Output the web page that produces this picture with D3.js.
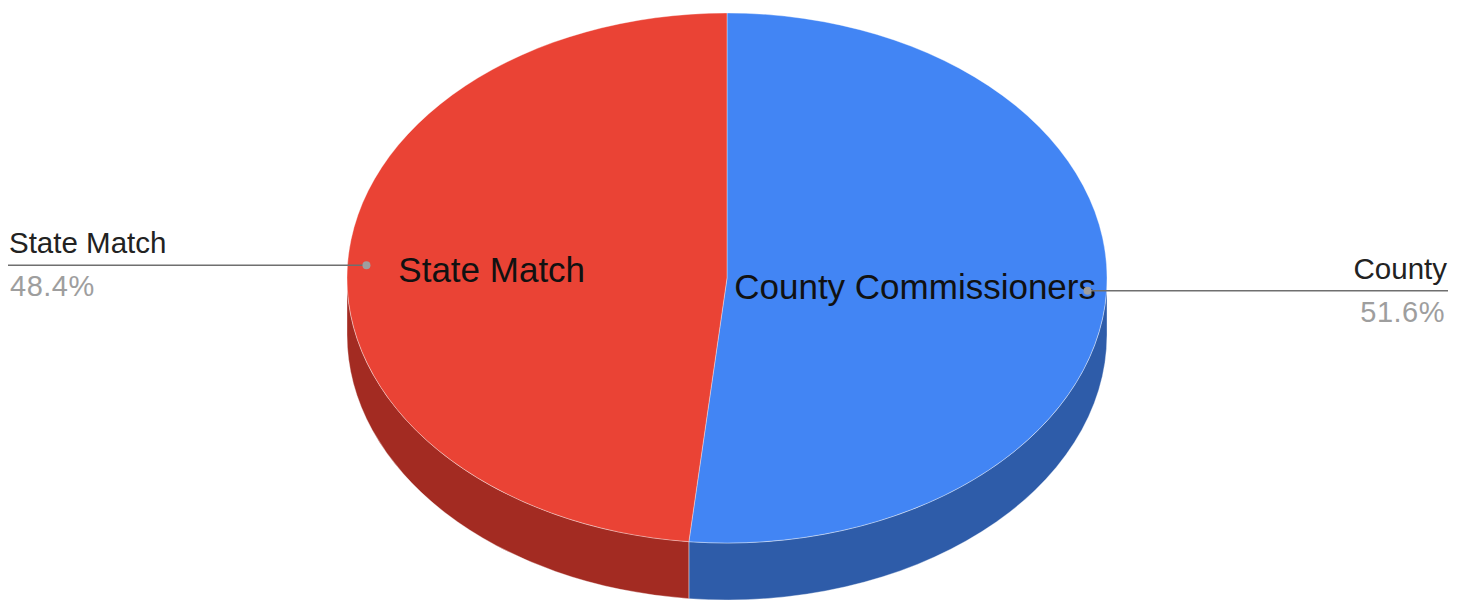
<!DOCTYPE html>
<html>
<head>
<meta charset="utf-8">
<script src="https://cdn.jsdelivr.net/npm/d3@7"></script>
<style>
  html, body { margin: 0; padding: 0; background: #fff; }
  svg { display: block; font-family: "Liberation Sans", Arial, sans-serif; }
</style>
</head>
<body>
<svg id="chart"></svg>
<script>
// data
var categories = ["County Commissioners", "State Match"];
var legendLabels = ["County", "State Match"];
var shares = [51.6, 48.4];
var topColors = ["#4285f4", "#ea4335"];
var sideColors = ["#2e5ca9", "#a32b22"];

var width = 1465, height = 602;
var cx = 727, cy = 278, rx = 380, ry = 265, depth = 57;

var svg = d3.select("#chart").attr("width", width).attr("height", height);

var pie = d3.pie().sort(null).value(function(d) { return d; });
var slices = pie(shares);

// point on the top ellipse, angle measured clockwise from 12 o'clock
function pt(a, r, dy) {
  r = r == null ? 1 : r;
  return [cx + r * rx * Math.sin(a), cy - r * ry * Math.cos(a) + (dy || 0)];
}

// side walls first (only the front half, PI/2 .. 3PI/2, is visible)
slices.forEach(function(s, i) {
  var a0 = Math.max(s.startAngle, Math.PI / 2),
      a1 = Math.min(s.endAngle, 3 * Math.PI / 2);
  if (a1 <= a0) return;
  var p0 = pt(a0), p1 = pt(a1), q0 = pt(a0, 1, depth), q1 = pt(a1, 1, depth);
  var d = "M" + p0 + " A" + rx + "," + ry + " 0 0 1 " + p1 +
          " L" + q1 + " A" + rx + "," + ry + " 0 0 0 " + q0 + " Z";
  svg.append("path")
    .attr("d", d)
    .attr("fill", sideColors[i])
    .attr("stroke", "rgba(255,255,255,0.45)")
    .attr("stroke-width", 0.8);
});

// top faces
slices.forEach(function(s, i) {
  var p0 = pt(s.startAngle), p1 = pt(s.endAngle);
  var large = (s.endAngle - s.startAngle) > Math.PI ? 1 : 0;
  var d = "M" + cx + "," + cy + " L" + p0 + " A" + rx + "," + ry + " 0 " + large + " 1 " + p1 + " Z";
  svg.append("path")
    .attr("d", d)
    .attr("fill", topColors[i])
    .attr("stroke", "rgba(255,255,255,0.45)")
    .attr("stroke-width", 0.8);
});

// inner labels, pulled inward so they stay inside the ellipse
slices.forEach(function(s, i) {
  var mid = (s.startAngle + s.endAngle) / 2;
  var p = pt(mid, 0.62);
  var t = svg.append("text")
    .attr("font-size", 35)
    .attr("fill", "#111")
    .attr("text-anchor", "middle")
    .attr("dy", "0.35em")
    .text(categories[i]);
  var w = t.node().getComputedTextLength();
  var x = Math.min(p[0], cx + rx - 11 - w / 2);
  x = Math.max(x, cx - rx + 10 + w / 2);
  t.attr("x", x).attr("y", p[1]);
});

// outside labels with leader lines
slices.forEach(function(s, i) {
  var mid = (s.startAngle + s.endAngle) / 2;
  var p = pt(mid, 0.95);
  var right = Math.sin(mid) > 0;
  var xEnd = right ? 1448 : 8;
  svg.append("line")
    .attr("x1", p[0]).attr("y1", p[1])
    .attr("x2", xEnd).attr("y2", p[1])
    .attr("stroke", "#6f6f6f").attr("stroke-width", 1.5);
  svg.append("circle")
    .attr("cx", p[0]).attr("cy", p[1]).attr("r", 4)
    .attr("fill", "#9e9e9e");
  svg.append("text")
    .attr("x", right ? xEnd - 1 : xEnd + 1)
    .attr("y", p[1] - 12)
    .attr("text-anchor", right ? "end" : "start")
    .attr("font-size", 29.5)
    .attr("fill", "#222")
    .text(legendLabels[i]);
  svg.append("text")
    .attr("x", right ? xEnd - 3 : xEnd + 2)
    .attr("y", p[1] + 31)
    .attr("text-anchor", right ? "end" : "start")
    .attr("font-size", 29)
    .attr("letter-spacing", 0.5)
    .attr("fill", "#9e9e9e")
    .text(d3.format(".1f")(shares[i]) + "%");
});
</script>
</body>
</html>
